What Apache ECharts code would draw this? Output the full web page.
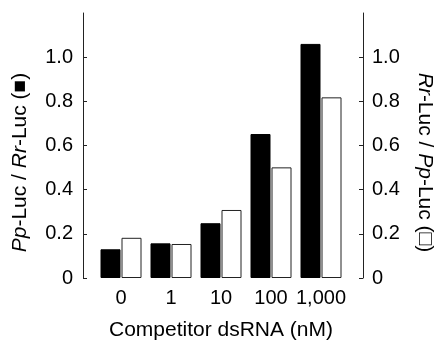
<!DOCTYPE html>
<html>
<head>
<meta charset="utf-8">
<script src="https://cdn.jsdelivr.net/npm/echarts@6/dist/echarts.min.js"></script>
<style>
  html, body { margin: 0; padding: 0; background: #fff; }
  #chart { width: 435px; height: 343px; }
</style>
</head>
<body>
<div id="chart"></div>
<script>
// competitor dsRNA concentrations (nM)
const categories = ['0', '1', '10', '100', '1,000'];
// Pp-Luc / Rr-Luc (filled bars, left axis)
const ppOverRr = [0.13, 0.157, 0.248, 0.652, 1.06];
// Rr-Luc / Pp-Luc (open bars, right axis)
const rrOverPp = [0.182, 0.154, 0.308, 0.501, 0.818];

const font = '"Liberation Sans", Arial, sans-serif';

const chart = echarts.init(document.getElementById('chart'));

const valueAxis = (side, offset) => ({
  type: 'value',
  position: side,
  offset: offset,
  min: 0,
  max: 1.2,
  interval: 0.2,
  splitLine: { show: false },
  axisLine: { show: true, lineStyle: { color: '#222', width: 1 } },
  axisTick: { show: true, inside: true, length: 4, lineStyle: { color: '#222' } },
  axisLabel: {
    margin: 10,
    color: '#000',
    fontSize: 20,
    fontFamily: font,
    showMaxLabel: false,
    formatter: v => (v === 0 ? '0' : v.toFixed(1))
  },
  nameLocation: 'middle',
  nameGap: 52,
  nameTextStyle: { color: '#000', fontSize: 21, fontFamily: font }
});

const leftAxis = valueAxis('left', 13);
leftAxis.name = '{i|Pp}-Luc / {i|Rr}-Luc (■)';
leftAxis.nameTextStyle.padding = [0, 34, 0, 0];
leftAxis.nameTextStyle.rich = { i: { fontStyle: 'italic', fontSize: 21, fontFamily: font } };

const rightAxis = valueAxis('right', 17);
rightAxis.name = '{i|Rr}-Luc / {i|Pp}-Luc (□)';
rightAxis.nameRotate = -90;
rightAxis.nameGap = 51;
rightAxis.axisLabel.margin = 9;
rightAxis.nameTextStyle.padding = [0, 0, 0, 34];
rightAxis.nameTextStyle.rich = { i: { fontStyle: 'italic', fontSize: 21, fontFamily: font } };

chart.setOption({
  animation: false,
  backgroundColor: '#fff',
  grid: { left: 96, right: 89, top: 13, bottom: 65, containLabel: false, outerBoundsMode: 'none' },
  xAxis: {
    type: 'category',
    data: categories,
    axisLine: { show: false },
    axisTick: { show: false },
    axisLabel: {
      interval: 0,
      hideOverlap: false,
      margin: 10,
      color: '#000',
      fontSize: 20,
      fontFamily: font
    },
    name: 'Competitor dsRNA (nM)',
    nameLocation: 'middle',
    nameGap: 42,
    nameTextStyle: { color: '#000', fontSize: 21, fontFamily: font }
  },
  yAxis: [leftAxis, rightAxis],
  series: [
    {
      type: 'bar',
      yAxisIndex: 0,
      data: ppOverRr,
      barWidth: 20,
      barGap: '5%',
      itemStyle: { color: '#000', borderColor: '#000', borderWidth: 1 }
    },
    {
      type: 'bar',
      yAxisIndex: 1,
      data: rrOverPp,
      barWidth: 20,
      barGap: '5%',
      itemStyle: { color: '#fff', borderColor: '#222', borderWidth: 1 }
    }
  ]
});
</script>
</body>
</html>
